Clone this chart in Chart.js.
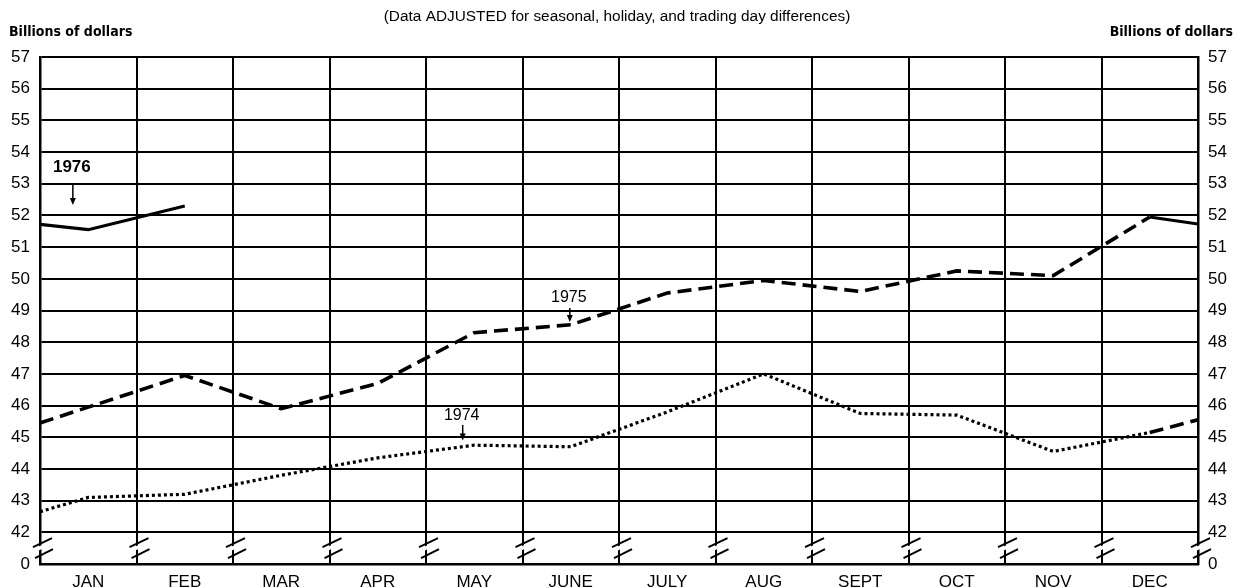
<!DOCTYPE html>
<html>
<head>
<meta charset="utf-8">
<script src="https://cdn.jsdelivr.net/npm/chart.js@4.4.1/dist/chart.umd.min.js"></script>
<style>
body{margin:0;background:#fff;}
#wrap{width:1240px;height:588px;position:relative;}
</style>
</head>
<body>
<div id="wrap"><canvas id="grafico"></canvas></div>
<script>
// dados (bilhoes de dolares, ajustados)
const months = ["JAN","FEB","MAR","APR","MAY","JUNE","JULY","AUG","SEPT","OCT","NOV","DEC"];
const y1974 = [43.1,43.2,43.8,44.35,44.75,44.7,45.8,47.0,45.75,45.7,44.55,45.15];
const y1975 = [45.95,46.95,45.9,46.7,48.3,48.55,49.55,49.95,49.6,50.25,50.1,51.95];
const y1976 = [51.55,52.3];
// valor na borda esquerda (inicio do ano) e na borda direita (fim do ano)
const yearStart = [42.65,45.45,51.72];
const yearEnd = [45.55,51.73];
const yTicks = [0,42,43,44,45,46,47,48,49,50,51,52,53,54,55,56,57];
const yBottom = 41; // onde fica o "0" depois da quebra

function serie(start, vals){
  const pts = [{x:0,y:start}];
  vals.forEach((v,i)=>pts.push({x:i+0.5,y:v}));
  return pts;
}

const FONT = "'Liberation Sans', Arial, sans-serif";

// textos, setas e quebras do eixo
const extras = {
  id:"extras",
  afterDraw(chart){
    const c = chart.ctx, x = chart.scales.x, y = chart.scales.y;
    c.save();
    c.fillStyle = "#000";
    c.textBaseline = "middle";
    c.font = "15.4px " + FONT;
    c.textAlign = "center";
    c.fillText("(Data ADJUSTED for seasonal, holiday, and trading day differences)", 617, 17);
    c.font = "bold 14px 'Liberation Sans Narrow', 'DejaVu Sans Condensed', " + FONT;
    c.textAlign = "left";
    c.fillText("Billions of dollars", 9, 32);
    c.textAlign = "right";
    c.fillText("Billions of dollars", 1233, 32);

    // rotulos dos anos
    const rot = [
      {t:"1976", bold:true, x:0.33, y:53.53, a1:53.0, a2:52.33},
      {t:"1975", bold:false, x:5.48, y:49.4, a1:49.08, a2:48.64},
      {t:"1974", bold:false, x:4.37, y:45.67, a1:45.39, a2:44.9}
    ];
    c.textAlign = "center";
    rot.forEach(r=>{
      c.font = (r.bold ? "bold 17px " : "16px ") + FONT;
      const px = x.getPixelForValue(r.x);
      c.fillText(r.t, px, y.getPixelForValue(r.y));
      const ax = px + 1;
      const top = y.getPixelForValue(r.a1), tip = y.getPixelForValue(r.a2);
      c.lineWidth = 1.5;
      c.beginPath(); c.moveTo(ax, top); c.lineTo(ax, tip - 5); c.stroke();
      c.beginPath(); c.moveTo(ax-3, tip-7); c.lineTo(ax+3, tip-7); c.lineTo(ax, tip); c.closePath(); c.fill();
    });

    // quebras //
    const yb = y.getPixelForValue(yBottom + 0.5);
    c.lineWidth = 2;
    for(let i=0;i<=12;i++){
      const px = x.getPixelForValue(i);
      c.fillStyle = "#fff";
      c.beginPath();
      c.moveTo(px-7, yb+1); c.lineTo(px+12, yb-8); c.lineTo(px+12, yb-4); c.lineTo(px-7, yb+5);
      c.closePath(); c.fill();
      c.beginPath();
      c.moveTo(px-7, yb-1); c.lineTo(px+12, yb-10);
      c.moveTo(px-5, yb+10); c.lineTo(px+13, yb+1);
      c.stroke();
    }
    c.restore();
  }
};

new Chart(document.getElementById("grafico"),{
type:"line",
data:{
datasets:[
{label:"1974", data:serie(yearStart[0], y1974), borderColor:"#000", borderWidth:3.2, borderDash:[3,3]},
{label:"1974-75", data:[{x:11.5,y:y1974[11]},{x:12,y:yearEnd[0]}], borderColor:"#000", borderWidth:3.6, borderDash:[14,7]},
{label:"1975", data:serie(yearStart[1], y1975), borderColor:"#000", borderWidth:3.6, borderDash:[14,7]},
{label:"1975-76", data:[{x:11.5,y:y1975[11]},{x:12,y:yearEnd[1]}], borderColor:"#000", borderWidth:3.2},
{label:"1976", data:serie(yearStart[2], y1976), borderColor:"#000", borderWidth:3.2}
]
},
options:{
responsive:true,
maintainAspectRatio:false,
animation:false,
layout:{padding:{top:57,left:0,right:0,bottom:0}},
elements:{point:{radius:0}, line:{tension:0}},
plugins:{legend:{display:false}, tooltip:{enabled:false}},
scales:{
x:{
type:"linear", min:0, max:12,
afterBuildTicks(s){
  const t=[]; for(let i=0;i<=24;i++) t.push({value:i/2}); s.ticks=t;
},
afterFit(s){ s.height = 24; },
grid:{
  color:(ctx)=> (ctx.tick && ctx.tick.value % 1 === 0) ? "#000" : "rgba(0,0,0,0)",
  lineWidth:2, drawTicks:false
},
border:{display:true, color:"#000", width:2.5},
ticks:{
  autoSkip:false, maxRotation:0, padding:8, color:"#000",
  font:{family:FONT, size:17},
  callback:(v)=> (v % 1 === 0.5) ? months[Math.floor(v)] : ""
}
},
y:{
type:"linear", position:"left", min:yBottom, max:57,
afterBuildTicks(s){ s.ticks = yTicks.map(v=>({value: v===0 ? yBottom : v})); },
afterFit(s){ s.width = 40; },
grid:{color:"#000", lineWidth:2, drawTicks:false},
border:{display:true, color:"#000", width:2.5},
ticks:{padding:10, color:"#000", font:{family:FONT, size:17},
  callback:(v)=> v===yBottom ? "0" : String(v)}
},
y2:{
type:"linear", position:"right", min:yBottom, max:57,
afterBuildTicks(s){ s.ticks = yTicks.map(v=>({value: v===0 ? yBottom : v})); },
afterFit(s){ s.width = 42; },
grid:{display:false, drawTicks:false},
border:{display:true, color:"#000", width:2.5},
ticks:{padding:10, color:"#000", font:{family:FONT, size:17},
  callback:(v)=> v===yBottom ? "0" : String(v)}
}
}
},
plugins:[extras]
});
</script>
</body>
</html>
